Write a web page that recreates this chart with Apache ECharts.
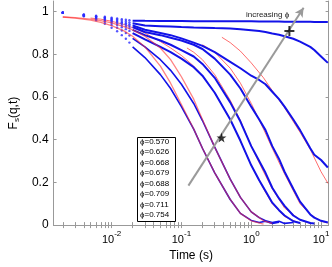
<!DOCTYPE html>
<html><head><meta charset="utf-8">
<script src="https://cdn.jsdelivr.net/npm/echarts@6/dist/echarts.min.js"></script>
<style>html,body{margin:0;padding:0;background:#fff}#c{width:332px;height:267px}</style>
</head><body><div id="c"></div>
<script>
// ---- data ----
const legendLabels = ['ϕ=0.570','ϕ=0.626','ϕ=0.668','ϕ=0.679','ϕ=0.688','ϕ=0.709','ϕ=0.711','ϕ=0.754'];
const xTickLabels = [0.01, 0.1, 1, 10];
const yTickLabels = [0, 0.2, 0.4, 0.6, 0.8, 1];
// early-time sparse points (drawn as dots)
const earlyTimes = [0.002, 0.004, 0.006, 0.008, 0.010, 0.012, 0.014, 0.016, 0.018];
const early1 = [0.995, 0.978, 0.960, 0.943, 0.925, 0.908, 0.890, 0.873, 0.855];
const early2 = [0.995, 0.980, 0.965, 0.952, 0.938, 0.925, 0.912, 0.900, 0.888];
const early3 = [0.995, 0.982, 0.970, 0.958, 0.947, 0.937, 0.927, 0.918, 0.910];
const early4 = [0.995, 0.983, 0.972, 0.962, 0.953, 0.945, 0.937, 0.930, 0.923];
const early5 = [0.995, 0.984, 0.975, 0.967, 0.960, 0.953, 0.946, 0.940, 0.934];
const early6 = [0.995, 0.985, 0.977, 0.970, 0.963, 0.957, 0.951, 0.946, 0.941];
const early7 = [0.995, 0.986, 0.979, 0.973, 0.968, 0.963, 0.958, 0.954, 0.950];
const early8 = [0.995, 0.987, 0.981, 0.976, 0.972, 0.968, 0.965, 0.962, 0.960];
// measured F_s(q,t)
const times = [0.02, 0.03, 0.05, 0.07, 0.1, 0.15, 0.2, 0.3, 0.5, 0.7, 1, 1.3, 1.6, 2, 2.5, 3, 4, 5, 7, 8, 10, 12.5];
const fs1 = [0.835, 0.785, 0.705, 0.64, 0.555, 0.45, 0.36, 0.245, 0.12, 0.055, 0.022, 0.012, 0.018, 0.008, 0.014, null, null, null, null, null, null, null];
const fs2 = [0.875, 0.835, 0.775, 0.725, 0.66, 0.57, 0.49, 0.365, 0.215, 0.13, 0.062, 0.035, 0.02, 0.012, 0.018, 0.008, 0.012, null, null, null, null, null];
const fs3 = [0.90, 0.87, 0.835, 0.81, 0.78, 0.74, 0.70, 0.62, 0.495, 0.395, 0.28, 0.21, 0.16, 0.105, 0.07, 0.045, 0.018, 0.01, null, null, null, null];
const fs4 = [0.915, 0.89, 0.865, 0.845, 0.82, 0.79, 0.755, 0.69, 0.575, 0.485, 0.37, 0.30, 0.245, 0.175, 0.125, 0.09, 0.045, 0.025, 0.01, 0.008, null, null];
const fs5 = [0.928, 0.905, 0.89, 0.878, 0.865, 0.845, 0.825, 0.78, 0.705, 0.64, 0.555, 0.495, 0.445, 0.37, 0.31, 0.25, 0.17, 0.11, 0.05, 0.035, 0.02, 0.012];
const fs6 = [0.936, 0.915, 0.90, 0.89, 0.875, 0.855, 0.84, 0.81, 0.765, 0.735, 0.70, 0.68, 0.66, 0.625, 0.59, 0.555, 0.495, 0.445, 0.36, 0.33, 0.305, 0.27];
const fs7 = [0.946, 0.935, 0.932, 0.93, 0.928, 0.926, 0.925, 0.923, 0.921, 0.918, 0.913, 0.909, 0.905, 0.898, 0.892, 0.885, 0.873, 0.86, 0.835, 0.82, 0.79, 0.76];
const fs8 = [0.958, 0.957, 0.956, 0.956, 0.956, 0.955, 0.955, 0.955, 0.955, 0.955, 0.955, 0.954, 0.954, 0.954, 0.954, 0.953, 0.953, 0.953, 0.953, 0.952, 0.952, 0.952];
// fits (red)
const fitT1 = [0.002, 0.003, 0.005, 0.007, 0.01, 0.015, 0.02, 0.03, 0.05, 0.07, 0.1, 0.15, 0.2, 0.3, 0.5, 0.7, 1, 1.5];
const fitF1 = [0.975, 0.97, 0.96, 0.95, 0.935, 0.91, 0.885, 0.835, 0.745, 0.665, 0.565, 0.45, 0.36, 0.245, 0.12, 0.055, 0.02, 0.005];
const fitT2 = [0.002, 0.003, 0.005, 0.007, 0.01, 0.015, 0.02, 0.03, 0.05, 0.07, 0.1, 0.15, 0.2, 0.3, 0.5, 0.7, 1, 1.5, 2];
const fitF2 = [0.975, 0.972, 0.965, 0.958, 0.948, 0.93, 0.915, 0.885, 0.83, 0.775, 0.695, 0.59, 0.495, 0.365, 0.215, 0.13, 0.062, 0.02, 0.008];
const fitT3 = [0.005, 0.007, 0.01, 0.015, 0.02, 0.03, 0.05, 0.07, 0.1, 0.15, 0.2, 0.3, 0.5, 0.7, 1, 1.5, 2, 3, 5];
const fitF3 = [0.97, 0.965, 0.955, 0.94, 0.925, 0.90, 0.86, 0.83, 0.795, 0.745, 0.70, 0.62, 0.495, 0.395, 0.28, 0.17, 0.10, 0.04, 0.008];
const fitT4 = [0.12, 0.15, 0.2, 0.3, 0.5, 0.7, 1, 1.5, 2, 3, 5, 7];
const fitF4 = [0.83, 0.81, 0.775, 0.705, 0.585, 0.49, 0.37, 0.25, 0.17, 0.08, 0.025, 0.008];
const fitT5 = [0.2, 0.3, 0.5, 0.7, 1, 1.5, 2, 3, 5, 7, 10, 12.6];
const fitF5 = [0.845, 0.81, 0.735, 0.665, 0.57, 0.45, 0.36, 0.24, 0.10, 0.05, 0.018, 0.01];
const fitT6 = [0.38, 0.5, 0.7, 1, 1.5, 2, 3, 5, 7, 10, 12.6];
const fitF6 = [0.88, 0.855, 0.815, 0.76, 0.69, 0.63, 0.55, 0.435, 0.355, 0.25, 0.195];
// annotations
const arrowFrom = [0.126, 0.185];
const arrowTo = [5.62, 1.018];
const starPoint = [0.375, 0.41];
const plusPoint = [3.52, 0.91];
const xMinorTicks = [0.002,0.003,0.004,0.005,0.006,0.007,0.008,0.009,0.01,0.02,0.03,0.04,0.05,0.06,0.07,0.08,0.09,0.1,0.2,0.3,0.4,0.5,0.6,0.7,0.8,0.9,1,2,3,4,5,6,7,8,9,10];

// ---- build ----
const earlyAll = [early1, early2, early3, early4, early5, early6, early7, early8];
const fsAll = [fs1, fs2, fs3, fs4, fs5, fs6, fs7, fs8];
const fitTAll = [fitT1, fitT2, fitT3, fitT4, fitT5, fitT6];
const fitFAll = [fitF1, fitF2, fitF3, fitF4, fitF5, fitF6];
const zip = (t, v) => t.map((x, i) => [x, v[i]]).filter(p => p[1] !== null);

const BLUE = '#1212e8';
const series = [];
earlyAll.forEach((e) => {
  series.push({type:'scatter', data: zip(earlyTimes, e), symbol:'circle', symbolSize:2.4,
    itemStyle:{color:'#2a2aff'}, silent:true, z:3});
});
fsAll.forEach((f, i) => {
  series.push({type:'line', data: zip(times, f), showSymbol:false, smooth:false,
    lineStyle:{color: BLUE, width: i < 2 ? 1.6 : 2}, silent:true, z: 3});
});
fitTAll.forEach((t, i) => {
  series.push({type:'line', data: zip(t, fitFAll[i]), showSymbol:false,
    lineStyle:{color:'#ff3030', width: i < 2 ? 1.3 : 1, opacity: i < 2 ? 0.6 : 0.7}, silent:true, z: i < 2 ? 4 : 2});
});
series.push({type:'line', data:[], markLine:{silent:true, symbol:['none','arrow'], symbolSize:[7,9],
  label:{show:false}, lineStyle:{color:'#9a9a9a', width:2, type:'solid'},
  data:[[{coord: arrowFrom}, {coord: arrowTo}]]}, z:5});
series.push({type:'scatter', data:[starPoint], symbol:'path://M50,0 L61,35 L98,35 L68,57 L79,91 L50,70 L21,91 L32,57 L2,35 L39,35 Z',
  symbolSize:10, itemStyle:{color:'#000'}, z:6, silent:true});
series.push({type:'scatter', data:[plusPoint], symbol:'path://M4,0H6V4H10V6H6V10H4V6H0V4H4Z',
  symbolSize:10, itemStyle:{color:'#000'}, z:6, silent:true});

const axisGray = '#999';
const FONT = 'Liberation Sans, Arial, sans-serif';
const xBase = {
  type:'log', logBase:10, min:0.001476, max:12.83,
  axisLine:{show:true, lineStyle:{color:axisGray, width:1}},
  splitLine:{show:false}, minorTick:{show:false},
  axisTick:{show:true, inside:true, length:3, customValues:xMinorTicks, lineStyle:{color:axisGray}}
};
const chart = echarts.init(document.getElementById('c'), null, {renderer:'canvas'});
chart.setOption({
  animation:false,
  backgroundColor:'#fff',
  grid:{left:39, right:1.5, top:1, bottom:33, containLabel:false},
  xAxis:[
    Object.assign({}, xBase, {position:'bottom',
      name:'Time (s)', nameLocation:'middle', nameGap:15,
      nameTextStyle:{fontSize:12, color:'#000', fontFamily:FONT},
      axisLabel:{customValues:xTickLabels, margin:5, color:'#000',
        formatter: v => '{b|10}{e|' + Math.round(Math.log10(v)) + '}',
        rich:{b:{fontSize:11, fontFamily:FONT, color:'#000', padding:[4,0,0,0]},
              e:{fontSize:8, fontFamily:FONT, color:'#000', verticalAlign:'top'}}}}),
    Object.assign({}, xBase, {position:'top', axisLabel:{show:false}})
  ],
  yAxis:[
    {type:'value', min:0, max:1.05, interval:0.2, position:'left',
      name:'{f|F}{s|s}{f|(q,t)}', nameLocation:'middle', nameRotate:90, nameGap:22,
      nameTextStyle:{rich:{f:{fontSize:12, fontFamily:FONT, color:'#000'}, s:{fontSize:8, fontFamily:FONT, color:'#000', verticalAlign:'bottom', padding:[6,0,0,0]}}},
      axisLine:{show:true, lineStyle:{color:axisGray}}, splitLine:{show:false},
      axisTick:{inside:true, length:3, lineStyle:{color:axisGray}},
      axisLabel:{showMaxLabel:false, margin:5, fontSize:12, color:'#000', fontFamily:FONT}},
    {type:'value', min:0, max:1.05, interval:0.2, position:'right',
      axisLine:{show:true, lineStyle:{color:axisGray}}, splitLine:{show:false},
      axisTick:{inside:true, length:3, lineStyle:{color:axisGray}}, axisLabel:{show:false}}
  ],
  series: series,
  graphic:[
    {type:'rect', shape:{x:137.5, y:137.5, width:38, height:84}, style:{fill:'#fff', stroke:'#000', lineWidth:1}, z:10},
    ...legendLabels.map((s, i) => ({type:'text', x:140, y:141.7 + i*10.47, z:11,
      style:{text:s, fontSize:8, fontFamily:FONT, fill:'#000', verticalAlign:'middle'}})),
    {type:'text', x:246, y:15, z:11, style:{text:'increasing ϕ', fontSize:8, fontFamily:FONT, fill:'#222', verticalAlign:'middle'}}
  ]
});
</script></body></html>
